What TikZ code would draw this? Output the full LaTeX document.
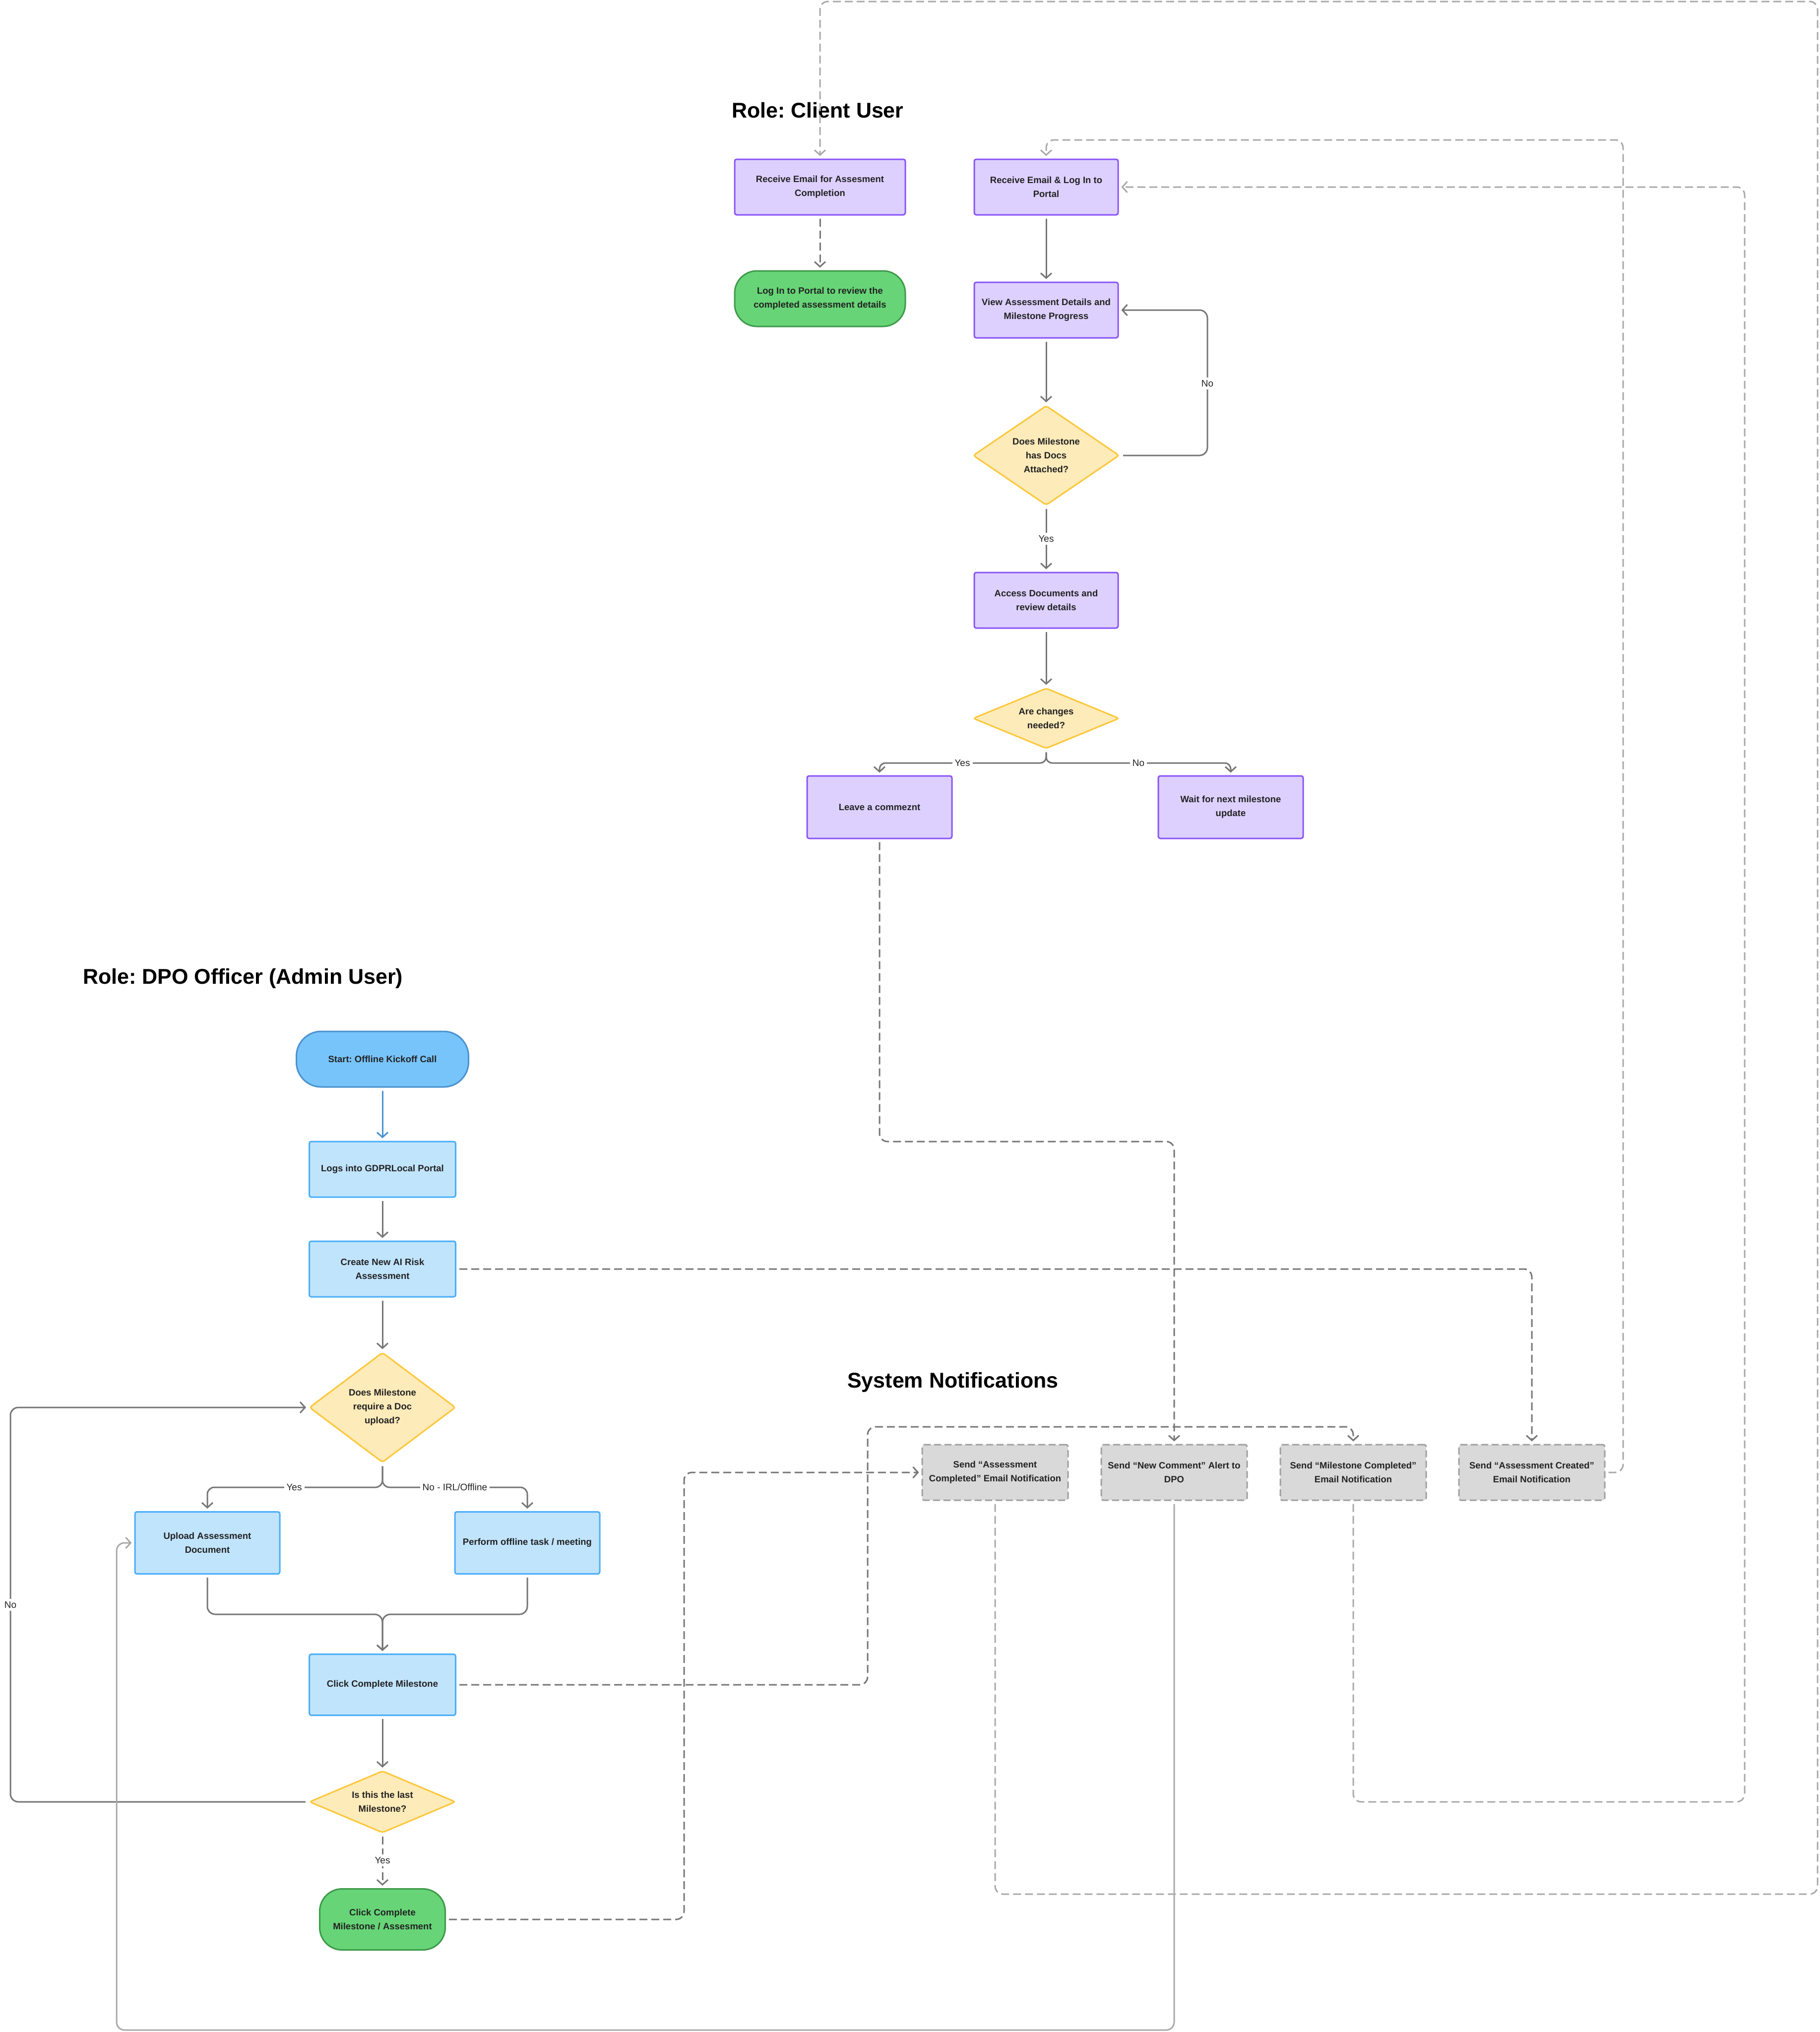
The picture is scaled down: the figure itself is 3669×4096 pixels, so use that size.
\documentclass[tikz,border=0pt]{standalone}
\usepackage{fontspec}
\setmainfont{Liberation Sans}
\usetikzlibrary{shapes.geometric,arrows.meta}
\frenchspacing
\definecolor{purpfill}{HTML}{DDD0FE}
\definecolor{purpline}{HTML}{8A55F7}
\definecolor{yelfill}{HTML}{FEEBBA}
\definecolor{yelline}{HTML}{FCC73A}
\definecolor{bluefill}{HTML}{C1E4FD}
\definecolor{blueline}{HTML}{4AAEF8}
\definecolor{startfill}{HTML}{77C4FB}
\definecolor{startline}{HTML}{4A92CF}
\definecolor{greenfill}{HTML}{67D577}
\definecolor{greenline}{HTML}{3E9A4A}
\definecolor{notefill}{HTML}{D9D9D9}
\definecolor{noteline}{HTML}{A0A0A0}
\definecolor{wire}{HTML}{767676}
\definecolor{wirelight}{HTML}{A9A9A9}
\definecolor{txt}{HTML}{222222}
\tikzset{
  cardbase/.style={draw, line width=3pt, rounded corners=4pt, align=center, inner sep=0pt, text=txt, font=\fontsize{18.5}{28}\selectfont\bfseries},
  clientcard/.style={cardbase, fill=purpfill, draw=purpline, minimum width=290pt, minimum height=112pt},
  admincard/.style={cardbase, fill=bluefill, draw=blueline, minimum width=295pt, minimum height=112pt},
  notecard/.style={cardbase, fill=notefill, draw=noteline, dash pattern=on 14pt off 7pt, minimum width=294pt, minimum height=112pt},
  endcard/.style={cardbase, fill=greenfill, draw=greenline, rounded corners=45pt, minimum height=123pt},
  decision/.style={cardbase, diamond, fill=yelfill, draw=yelline, rounded corners=5pt, minimum width=295pt},
  heading/.style={anchor=west, inner sep=0pt, font=\fontsize{43}{48}\selectfont\bfseries},
  lbl/.style={fill=white, inner sep=5pt, text=txt, font=\fontsize{19}{22}\selectfont},
  flow/.style={draw=wire, line width=3pt, rounded corners=16pt, -{Straight Barb[length=10pt,width=22pt]}, shorten >=5pt, shorten <=6pt},
  dflow/.style={flow, dash pattern=on 16pt off 8pt},
  lflow/.style={dflow, draw=wirelight}
}
\begin{document}
\begin{tikzpicture}[x=1pt,y=-1pt]
\useasboundingbox (0,0) rectangle (3669,4096);

\node[heading] (clienthead) at (1475,222) {Role: Client User};
\node[clientcard, minimum width=344pt] (mailDone) at (1653,377) {Receive Email for Assesment\\Completion};
\node[endcard, minimum width=344pt, minimum height=112pt] (reviewDone) at (1653,602) {Log In to Portal to review the\\completed assessment details};
\node[clientcard] (mailLogin) at (2109,377) {Receive Email \& Log In to\\Portal};
\node[clientcard] (viewDetails) at (2109,625) {View Assessment Details and\\Milestone Progress};
\node[decision, aspect=1.47, minimum height=201pt] (hasDocs) at (2109,918) {Does Milestone\\has Docs\\Attached?};
\node[clientcard] (accessDocs) at (2109,1210) {Access Documents and\\review details};
\node[decision, aspect=2.42, minimum height=122pt] (needChanges) at (2109,1448) {Are changes\\needed?};
\node[clientcard, minimum width=292pt, minimum height=126pt] (leaveComment) at (1773,1627) {Leave a commeznt};
\node[clientcard, minimum width=292pt, minimum height=126pt] (waitNext) at (2481,1627) {Wait for next milestone\\update};

\node[heading] (adminhead) at (167,1972) {Role: DPO Officer (Admin User)};
\node[cardbase, fill=startfill, draw=startline, rounded corners=50pt, minimum width=347pt, minimum height=112pt] (kickoff) at (771,2135) {Start: Offline Kickoff Call};
\node[admincard] (logIn) at (771,2357) {Logs into GDPRLocal Portal};
\node[admincard] (createRisk) at (771,2558) {Create New AI Risk\\Assessment};
\node[decision, aspect=1.33, minimum height=222pt] (needUpload) at (771,2837) {Does Milestone\\require a Doc\\upload?};
\node[admincard, minimum width=292pt, minimum height=125pt] (uploadDoc) at (418,3110) {Upload Assessment\\Document};
\node[admincard, minimum width=292pt, minimum height=125pt] (offlineTask) at (1063,3110) {Perform offline task / meeting};
\node[admincard, minimum height=123pt] (completeMs) at (771,3396) {Click Complete Milestone};
\node[decision, aspect=2.36, minimum height=125pt] (lastMs) at (771,3632) {Is this the last\\Milestone?};
\node[endcard, minimum width=253pt] (completeAll) at (771,3869) {Click Complete\\Milestone / Assesment};

\node[heading] (systemhead) at (1708,2786) {System Notifications};
\node[notecard] (mailCompleted) at (2006,2968) {Send “Assessment\\Completed” Email Notification};
\node[notecard] (alertComment) at (2367,2968) {Send “New Comment” Alert to\\DPO};
\node[notecard] (mailMilestone) at (2728,2968) {Send “Milestone Completed”\\Email Notification};
\node[notecard] (mailCreated) at (3088,2968) {Send “Assessment Created”\\Email Notification};

\draw[dflow] (mailDone.south) -- (reviewDone.north);
\draw[flow] (mailLogin.south) -- (viewDetails.north);
\draw[flow] (viewDetails.south) -- (hasDocs.north);
\draw[flow] (hasDocs.south) -- (accessDocs.north);
\draw[flow] (hasDocs.east) -| (2434,625) -- (viewDetails.east);
\draw[flow] (accessDocs.south) -- (needChanges.north);
\draw[flow, rounded corners=12pt] (needChanges.south) |- (1773,1538) -- (leaveComment.north);
\draw[flow, rounded corners=12pt] (needChanges.south) |- (2481,1538) -- (waitNext.north);
\node[lbl] (noDocs) at (2434,773) {No};
\node[lbl] (yesDocs) at (2109,1086) {Yes};
\node[lbl] (yesChanges) at (1940,1538) {Yes};
\node[lbl] (noChanges) at (2295,1538) {No};

\draw[flow, draw=startline] (kickoff.south) -- (logIn.north);
\draw[flow] (logIn.south) -- (createRisk.north);
\draw[flow] (createRisk.south) -- (needUpload.north);
\draw[flow, rounded corners=14pt] (needUpload.south) |- (418,2998) -- (uploadDoc.north);
\draw[flow, rounded corners=14pt] (needUpload.south) |- (1063,2998) -- (offlineTask.north);
\draw[flow] (uploadDoc.south) |- (771,3254) -- (completeMs.north);
\draw[flow] (offlineTask.south) |- (771,3254) -- (completeMs.north);
\draw[flow] (completeMs.south) -- (lastMs.north);
\draw[flow] (lastMs.west) -| (21,2837) -- (needUpload.west);
\draw[dflow] (lastMs.south) -- (completeAll.north);
\node[lbl] (yesUpload) at (593,2998) {Yes};
\node[lbl] (noUpload) at (917,2998) {No - IRL/Offline};
\node[lbl] (notLast) at (21,3235) {No};
\node[lbl] (isLast) at (771,3750) {Yes};

\draw[dflow] (createRisk.east) -| (mailCreated.north);
\draw[lflow] (mailCreated.east) -| (3272,282) -| (mailLogin.north);
\draw[dflow] (completeMs.east) -| (1749,2876) -| (mailMilestone.north);
\draw[lflow] (mailMilestone.south) |- (3517,3632) |- (mailLogin.east);
\draw[dflow] (completeAll.east) -| (1379,2968) -- (mailCompleted.west);
\draw[lflow] (mailCompleted.south) |- (3664,3818) |- (1653,3) -- (mailDone.north);
\draw[dflow] (leaveComment.south) |- (2367,2301) -- (alertComment.north);
\draw[flow, draw=wirelight] (alertComment.south) |- (235,4092) |- (uploadDoc.west);
\end{tikzpicture}
\end{document}
